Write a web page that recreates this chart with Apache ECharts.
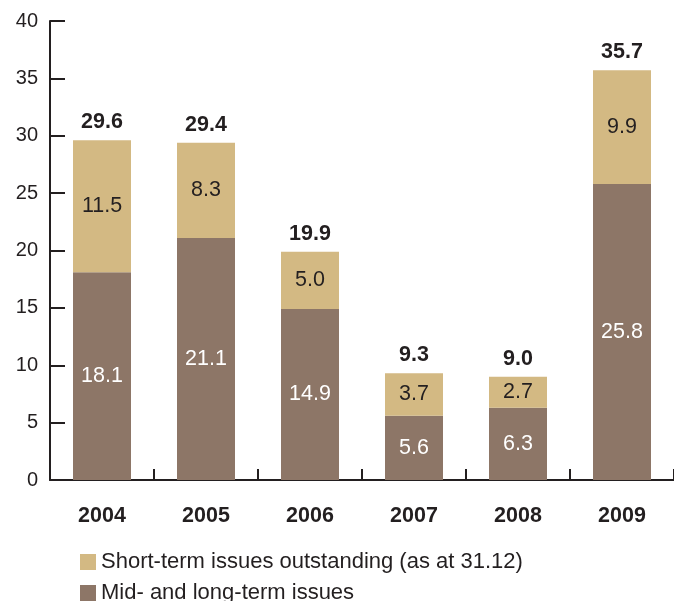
<!DOCTYPE html>
<html>
<head>
<meta charset="utf-8">
<script src="https://cdn.jsdelivr.net/npm/echarts@6/dist/echarts.min.js"></script>
<style>html,body{margin:0;padding:0;background:#fff;}#c{width:674px;height:601px;}</style>
</head>
<body>
<div id="c"></div>
<script>
var years = ['2004', '2005', '2006', '2007', '2008', '2009'];
var midLongTerm = [18.1, 21.1, 14.9, 5.6, 6.3, 25.8];
var shortTerm = [11.5, 8.3, 5.0, 3.7, 2.7, 9.9];
var totals = [29.6, 29.4, 19.9, 9.3, 9.0, 35.7];
var yTicks = [0, 5, 10, 15, 20, 25, 30, 35, 40];
var SHORT_NAME = 'Short-term issues outstanding (as at 31.12)';
var MID_NAME = 'Mid- and long-term issues';

var FONT = 'Liberation Sans, Arial, Helvetica, sans-serif';
var INK = '#231f20';
var legendBase = {
  orient: 'vertical', left: 75, itemWidth: 16, itemHeight: 16, icon: 'rect',
  textStyle: { fontSize: 22, color: INK, fontFamily: FONT },
  selectedMode: false
};
var chart = echarts.init(document.getElementById('c'));
chart.setOption({
  animation: false,
  textStyle: { fontFamily: FONT },
  grid: { left: 50, right: -2, top: 21, bottom: 121 },
  legend: [
    Object.assign({}, legendBase, { top: 546, data: [SHORT_NAME] }),
    Object.assign({}, legendBase, { top: 577, data: [MID_NAME] })
  ],
  xAxis: {
    type: 'category', data: years,
    axisLine: { lineStyle: { color: INK, width: 2 } },
    axisTick: { show: true, inside: true, length: 11, alignWithLabel: false, lineStyle: { color: INK, width: 2 } },
    axisLabel: { fontSize: 21.5, fontWeight: 'bold', color: INK, margin: 25, fontFamily: FONT }
  },
  yAxis: {
    type: 'value', min: yTicks[0], max: yTicks[yTicks.length - 1], interval: 5,
    axisLine: { show: true, lineStyle: { color: INK, width: 2 } },
    axisTick: { show: true, inside: true, length: 15, lineStyle: { color: INK, width: 2 } },
    splitLine: { show: false },
    axisLabel: { fontSize: 20, color: INK, margin: 12, fontFamily: FONT }
  },
  series: [
    {
      name: MID_NAME, type: 'bar', stack: 's', data: midLongTerm,
      barWidth: 58, itemStyle: { color: '#8d7667' },
      label: { show: true, position: 'inside', color: '#fff', fontSize: 21.5, fontFamily: FONT,
        formatter: function (p) { return p.value.toFixed(1); } }
    },
    {
      name: SHORT_NAME, type: 'bar', stack: 's', data: shortTerm,
      barWidth: 58, itemStyle: { color: '#d3b983' },
      label: { show: true, position: 'inside', color: INK, fontSize: 21.5, fontFamily: FONT,
        formatter: function (p) { return p.value.toFixed(1); } }
    },
    {
      name: 'Total', type: 'bar', stack: 's', data: totals.map(function () { return 0; }),
      barWidth: 58, itemStyle: { color: 'transparent' },
      label: { show: true, position: 'top', distance: 7, color: INK, fontSize: 21.5, fontWeight: 'bold', fontFamily: FONT,
        formatter: function (p) { return totals[p.dataIndex].toFixed(1); } }
    }
  ]
});
</script>
</body>
</html>
